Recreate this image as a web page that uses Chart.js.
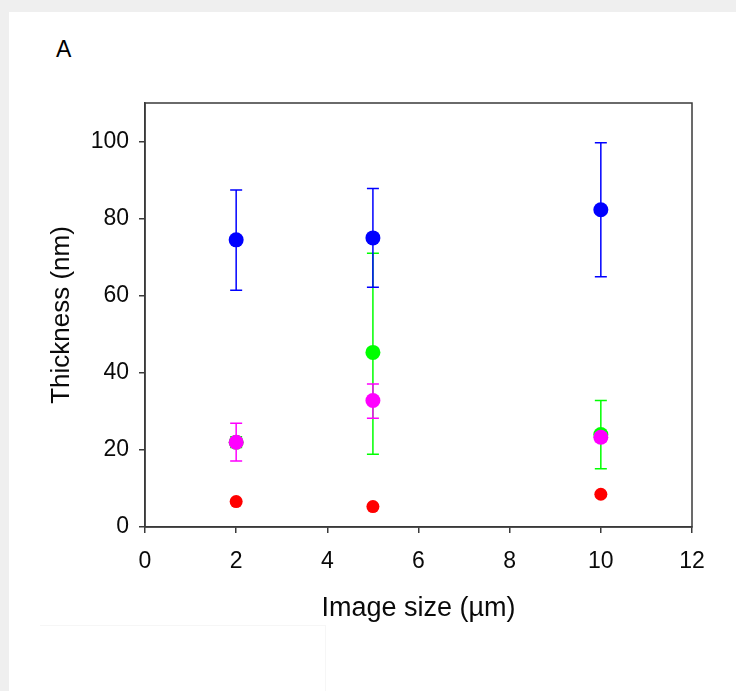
<!DOCTYPE html>
<html>
<head>
<meta charset="utf-8">
<script src="https://cdn.jsdelivr.net/npm/chart.js@4.4.1/dist/chart.umd.min.js"></script>
<style>
  html, body { margin: 0; padding: 0; width: 736px; height: 691px; overflow: hidden; background: #efefef; }
  #card { position: absolute; left: 9px; top: 12px; right: 0; bottom: 0; background: #ffffff; }
  #faint { position: absolute; left: 40px; top: 625px; width: 285px; height: 80px; border-top: 1px solid #f6f6f6; border-right: 1px solid #f6f6f6; }
  #panel { position: absolute; left: 56px; top: 38px; font: 23px "Liberation Sans", Arial, sans-serif; line-height: 23px; color: #000; }
  #wrap { position: absolute; left: 0; top: 0; width: 736px; height: 691px; }
</style>
</head>
<body>
<div id="card"></div>
<div id="faint"></div>
<div id="panel">A</div>
<div id="wrap"><canvas id="c" width="736" height="691"></canvas></div>
<script>
// ---- data ----
const xValues = [2, 5, 10];
const xTicks = [0, 2, 4, 6, 8, 10, 12];
const yTicks = [0, 20, 40, 60, 80, 100];

const blueValues = [74.5, 75.0, 82.3];
const blueLow    = [61.4, 62.2, 64.9];
const blueHigh   = [87.4, 87.8, 99.7];

const greenValues = [22.0, 45.3, 24.0];
const greenLow    = [20.6, 18.9, 15.1];
const greenHigh   = [23.4, 71.0, 32.8];

const magentaValues = [22.0, 32.8, 23.3];
const magentaLow    = [17.1, 28.2, 22.2];
const magentaHigh   = [26.9, 37.1, 24.4];

const redValues = [6.6, 5.3, 8.5];

const FONT = '"Liberation Sans", Arial, sans-serif';

function pts(vals) { return xValues.map((x, i) => ({ x: x, y: vals[i] })); }

const errorBars = {
  id: 'errorBars',
  beforeDatasetDraw(chart, args) {
    const ds = chart.data.datasets[args.index];
    if (!ds.errLow) return;
    const ctx = chart.ctx, ys = chart.scales.y;
    ctx.save();
    ctx.strokeStyle = ds.backgroundColor;
    ctx.lineWidth = 1.5;
    args.meta.data.forEach((el, i) => {
      const lo = ds.errLow[i], hi = ds.errHigh[i];
      if (lo == null || hi == null) return;
      const x = el.x, y1 = ys.getPixelForValue(lo), y2 = ys.getPixelForValue(hi);
      ctx.beginPath();
      ctx.moveTo(x, y1); ctx.lineTo(x, y2);
      ctx.moveTo(x - 6, y1); ctx.lineTo(x + 6, y1);
      ctx.moveTo(x - 6, y2); ctx.lineTo(x + 6, y2);
      ctx.stroke();
    });
    ctx.restore();
  }
};

const frame = {
  id: 'frame',
  beforeDatasetsDraw(chart) {
    const { ctx, chartArea: a } = chart;
    ctx.save();
    ctx.strokeStyle = '#3a3a3a';
    ctx.lineWidth = 1.5;
    ctx.strokeRect(a.left, a.top, a.right - a.left, a.bottom - a.top);
    ctx.restore();
  }
};

new Chart(document.getElementById('c'), {
  type: 'scatter',
  data: {
    datasets: [
      { label: 'Red', data: pts(redValues), backgroundColor: '#ff0000', pointRadius: 6.5, pointBorderWidth: 0 },
      { label: 'Magenta', data: pts(magentaValues), errLow: magentaLow, errHigh: magentaHigh, backgroundColor: '#ff00ff', pointRadius: 7.5, pointBorderWidth: 0 },
      { label: 'Blue', data: pts(blueValues), errLow: blueLow, errHigh: blueHigh, backgroundColor: '#0000ff', pointRadius: 7.5, pointBorderWidth: 0 },
      { label: 'Green', data: pts(greenValues), errLow: greenLow, errHigh: greenHigh, backgroundColor: '#00ff00', pointRadius: 7.5, pointBorderWidth: 0 }
    ]
  },
  options: {
    responsive: false,
    animation: false,
    events: [],
    layout: { padding: { left: 0, top: 103, right: 44, bottom: 0 } },
    plugins: { legend: { display: false }, tooltip: { enabled: false } },
    scales: {
      x: {
        type: 'linear', min: 0, max: 12,
        afterBuildTicks(s) { s.ticks = xTicks.map(v => ({ value: v })); },
        afterFit(s) { s.height = 164; },
        grid: { display: true, drawOnChartArea: false, drawTicks: true, tickLength: 6, color: '#3a3a3a', lineWidth: 1.5 },
        border: { display: true, color: '#3a3a3a', width: 1.5 },
        ticks: { color: '#0a0a0a', font: { family: FONT, size: 23 }, padding: 15, maxRotation: 0 },
        title: { display: true, text: 'Image size (µm)', color: '#0a0a0a', font: { family: FONT, size: 27 }, padding: { top: 0, bottom: 66 } }
      },
      y: {
        type: 'linear', min: 0, max: 110,
        afterBuildTicks(s) { s.ticks = yTicks.map(v => ({ value: v })); },
        afterFit(s) { s.width = 145; },
        grid: { display: true, drawOnChartArea: false, drawTicks: true, tickLength: 6, color: '#3a3a3a', lineWidth: 1.5 },
        border: { display: true, color: '#3a3a3a', width: 1.5 },
        ticks: { color: '#0a0a0a', font: { family: FONT, size: 23 }, padding: 10 },
        title: { display: true, text: 'Thickness (nm)', color: '#0a0a0a', font: { family: FONT, size: 26 }, padding: { top: 46, bottom: 0 } }
      }
    }
  },
  plugins: [errorBars, frame]
});
</script>
</body>
</html>
